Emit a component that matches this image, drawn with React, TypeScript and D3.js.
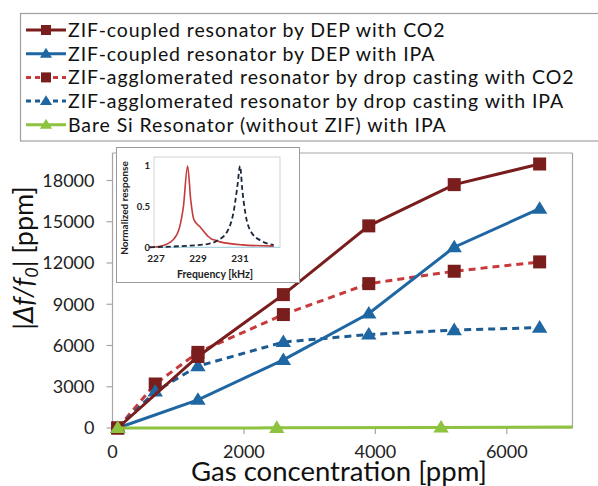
import React from "react";
import * as d3 from "d3";

// ---------- data ----------
const legendLabels = [
  "ZIF-coupled resonator by DEP with CO2",
  "ZIF-coupled resonator by DEP with IPA",
  "ZIF-agglomerated resonator by drop casting with CO2",
  "ZIF-agglomerated resonator by drop casting with IPA",
  "Bare Si Resonator (without ZIF) with IPA",
];

const depCO2X = [80, 1300, 2600, 3900, 5200, 6500];
const depCO2Y = [0, 5200, 9700, 14700, 17700, 19200];

const depIPAX = [80, 1300, 2600, 3900, 5200, 6500];
const depIPAY = [0, 2050, 4950, 8330, 13150, 15950];

const dropCO2X = [80, 650, 1300, 2600, 3900, 5200, 6500];
const dropCO2Y = [0, 3200, 5500, 8250, 10500, 11400, 12080];

const dropIPAX = [80, 650, 1300, 2600, 3900, 5200, 6500];
const dropIPAY = [0, 2650, 4500, 6250, 6800, 7120, 7300];

const bareX = [80, 2500, 5000, 7500];
const bareY = [0, 10, 40, 80];

const xTicks = [0, 2000, 4000, 6000];
const yTicks = [0, 3000, 6000, 9000, 12000, 15000, 18000];

// inset: normalized response vs frequency (kHz)
const insetRedF = [226.75, 227.4, 227.9, 228.2, 228.4, 228.6, 228.75, 228.9, 229.2, 229.6, 229.75, 229.9, 230.1, 231.2, 232.7];
const insetRedR = [0.0, 0.02, 0.09, 0.23, 0.5, 1.0, 0.58, 0.34, 0.25, 0.13, 0.1, 0.09, 0.07, 0.03, 0.015];
const insetBlkF = [226.8, 227.95, 229.55, 230.0, 230.5, 230.8, 230.97, 231.1, 231.2, 231.35, 231.6, 232.1, 232.7];
const insetBlkR = [0.0, 0.01, 0.04, 0.08, 0.2, 0.45, 0.75, 1.0, 0.72, 0.42, 0.2, 0.08, 0.03];
const insetXTicks = [227, 229, 231];
const insetYTicks = [0, 0.5, 1];
const insetYTickLabels = ["0", "0.5", "1"];

// ---------- styles ----------
const DARKRED = "#7a1d1d";
const RED = "#c63a3c";
const BLUE = "#1f67a3";
const BLUE2 = "#1c5c93";
const GREEN = "#8dc33f";
const FONT = "Lato, 'Open Sans', sans-serif";

type Series = {
  xs: number[];
  ys: number[];
  line: string;
  dash?: string;
  marker: "square" | "triangle";
  markerColor: string;
};

const series: Series[] = [
  { xs: dropCO2X, ys: dropCO2Y, line: RED, dash: "7,5", marker: "square", markerColor: DARKRED },
  { xs: dropIPAX, ys: dropIPAY, line: BLUE2, dash: "7,5", marker: "triangle", markerColor: BLUE },
  { xs: depIPAX, ys: depIPAY, line: BLUE, marker: "triangle", markerColor: BLUE },
  { xs: depCO2X, ys: depCO2Y, line: DARKRED, marker: "square", markerColor: DARKRED },
  { xs: bareX, ys: bareY, line: GREEN, marker: "triangle", markerColor: GREEN },
];

const legendStyles = [
  { line: DARKRED, dash: undefined, marker: "square", color: DARKRED },
  { line: BLUE, dash: undefined, marker: "triangle", color: BLUE },
  { line: RED, dash: "5,4", marker: "square", color: DARKRED },
  { line: BLUE2, dash: "5,4", marker: "triangle", color: BLUE },
  { line: GREEN, dash: undefined, marker: "triangle", color: GREEN },
];

function Marker({ kind, x, y, size, color }: { kind: string; x: number; y: number; size: number; color: string }) {
  if (kind === "square") {
    return <rect x={x - size / 2} y={y - size / 2} width={size} height={size} fill={color} />;
  }
  const h = size * 0.9;
  const w = size * 1.1;
  return (
    <path
      d={`M${x},${y - h * 0.6} L${x + w / 2},${y + h * 0.4} L${x - w / 2},${y + h * 0.4} Z`}
      fill={color}
    />
  );
}

export default function App() {
  const W = 598;
  const H = 486;
  const L = 112.5, R = 572.5, T = 153, B = 428;

  const x = d3.scaleLinear().domain([0, 7000]).range([L, R]);
  const y = d3.scaleLinear().domain([0, 20000]).range([B, T]);

  // inset geometry
  const iL = 154, iR = 280, iT = 157, iB = 247.3;
  const ix = d3.scaleLinear().domain([227, 233]).range([iL, iR]);
  const iy = d3.scaleLinear().domain([0, 1.1]).range([iB, iB - 1.1 * 81.3]);

  const lineGen = (xs: number[], ys: number[]) =>
    d3
      .line<number>()
      .x((_, i) => x(xs[i]))
      .y((_, i) => y(ys[i]))(ys) || "";

  const insetLine = (fs: number[], rs: number[]) =>
    d3
      .line<number>()
      .x((_, i) => ix(fs[i]))
      .y((_, i) => iy(rs[i]))
      .curve(d3.curveMonotoneX)(rs) || "";

  const legendRowY = (i: number) => 30 + i * 23.7;

  return (
    <svg
      width={W}
      height={H}
      style={{ position: "absolute", left: 0, top: 0, background: "#fff" }}
      fontFamily={FONT}
    >
      <defs>
        <clipPath id="plotClip">
          <rect x={L - 10} y={T - 10} width={R - L + 10} height={B - T + 20} />
        </clipPath>
      </defs>

      {/* Legend */}
      <rect x={20.5} y={13.5} width={600} height={127.5} fill="#fff" stroke="#a0a0a0" strokeWidth={1.2} />
      {legendLabels.map((lab, i) => {
        const st = legendStyles[i];
        const cy = legendRowY(i);
        return (
          <g key={lab}>
            <line x1={26} x2={66} y1={cy} y2={cy} stroke={st.line} strokeWidth={3} strokeDasharray={st.dash} />
            <Marker kind={st.marker} x={46} y={cy} size={st.marker === "square" ? 10 : 11} color={st.color} />
            <text x={68} y={cy} dy="0.35em" fontSize={19.5} letterSpacing={0.9} fill="#111">
              {lab}
            </text>
          </g>
        );
      })}

      {/* Plot frame */}
      <line x1={L} x2={R} y1={T} y2={T} stroke="#a6a6a6" strokeWidth={1.2} />
      <line x1={R} x2={R} y1={T} y2={B} stroke="#a6a6a6" strokeWidth={1.2} />
      <line x1={L} x2={L} y1={T} y2={B} stroke="#a6a6a6" strokeWidth={1.2} />
      <line x1={L} x2={R} y1={B} y2={B} stroke="#a6a6a6" strokeWidth={1.2} />

      {/* y ticks */}
      {yTicks.map((t) => (
        <g key={"y" + t}>
          <line x1={L - 6} x2={L} y1={y(t)} y2={y(t)} stroke="#a6a6a6" strokeWidth={1.2} />
          <text x={L - 18} y={y(t)} dy="0.35em" textAnchor="end" fontSize={18} fill="#222">
            {t}
          </text>
        </g>
      ))}
      {/* x ticks */}
      {xTicks.map((t) => (
        <g key={"x" + t}>
          <line x1={x(t)} x2={x(t)} y1={B} y2={B + 6} stroke="#a6a6a6" strokeWidth={1.2} />
          <text x={x(t)} y={B + 30} textAnchor="middle" fontSize={18} fill="#222">
            {t}
          </text>
        </g>
      ))}

      {/* Series */}
      <g clipPath="url(#plotClip)">
        {series.map((s, si) => (
          <g key={si}>
            <path d={lineGen(s.xs, s.ys)} fill="none" stroke={s.line} strokeWidth={3} strokeDasharray={s.dash} />
            {s.xs.map((xv, i) => (
              <Marker
                key={i}
                kind={s.marker}
                x={x(xv)}
                y={y(s.ys[i])}
                size={s.marker === "square" ? 13 : 14}
                color={s.markerColor}
              />
            ))}
          </g>
        ))}
      </g>

      {/* Inset */}
      <rect x={116.5} y={147.5} width={183} height={135} fill="#fff" stroke="#9a9a9a" strokeWidth={1} />
      <rect x={iL} y={iT} width={iR - iL} height={iB - iT} fill="none" stroke="#c8c8c8" strokeWidth={0.8} />
      <line x1={iL} x2={iR} y1={iB} y2={iB} stroke="#9fd6e6" strokeWidth={1} />
      <path d={insetLine(insetRedF, insetRedR)} fill="none" stroke={RED} strokeWidth={1.6} />
      <path d={insetLine(insetBlkF, insetBlkR)} fill="none" stroke="#1b2838" strokeWidth={1.8} strokeDasharray="5,3" />
      {insetYTicks.map((t, i) => (
        <text key={"iy" + t} x={iL - 4} y={iy(t)} dy="0.35em" textAnchor="end" fontSize={9.5} fontWeight="bold" fill="#222">
          {insetYTickLabels[i]}
        </text>
      ))}
      {insetXTicks.map((t) => (
        <text key={"ix" + t} x={ix(t) + 2} y={iB + 15} textAnchor="middle" fontSize={10} fontWeight="bold" fill="#222">
          {t}
        </text>
      ))}
      <text x={215} y={278} textAnchor="middle" fontSize={10.5} fontWeight="bold" fill="#222">
        Frequency [kHz]
      </text>
      <text
        transform={`translate(128,208) rotate(-90)`}
        textAnchor="middle"
        fontSize={10}
        fontWeight="bold"
        fill="#222"
      >
        Normalized response
      </text>

      {/* Axis titles */}
      <text x={339} y={481} textAnchor="middle" fontSize={27.5} fill="#111">
        Gas concentration [ppm]
      </text>
      <text transform={`translate(33,258) rotate(-90)`} textAnchor="middle" fontSize={27} fill="#111">
        <tspan>|</tspan>
        <tspan fontStyle="italic">Δf/f</tspan>
        <tspan fontStyle="italic" fontSize={18} dy={5}>0</tspan>
        <tspan dy={-5}>| [ppm]</tspan>
      </text>
    </svg>
  );
}
